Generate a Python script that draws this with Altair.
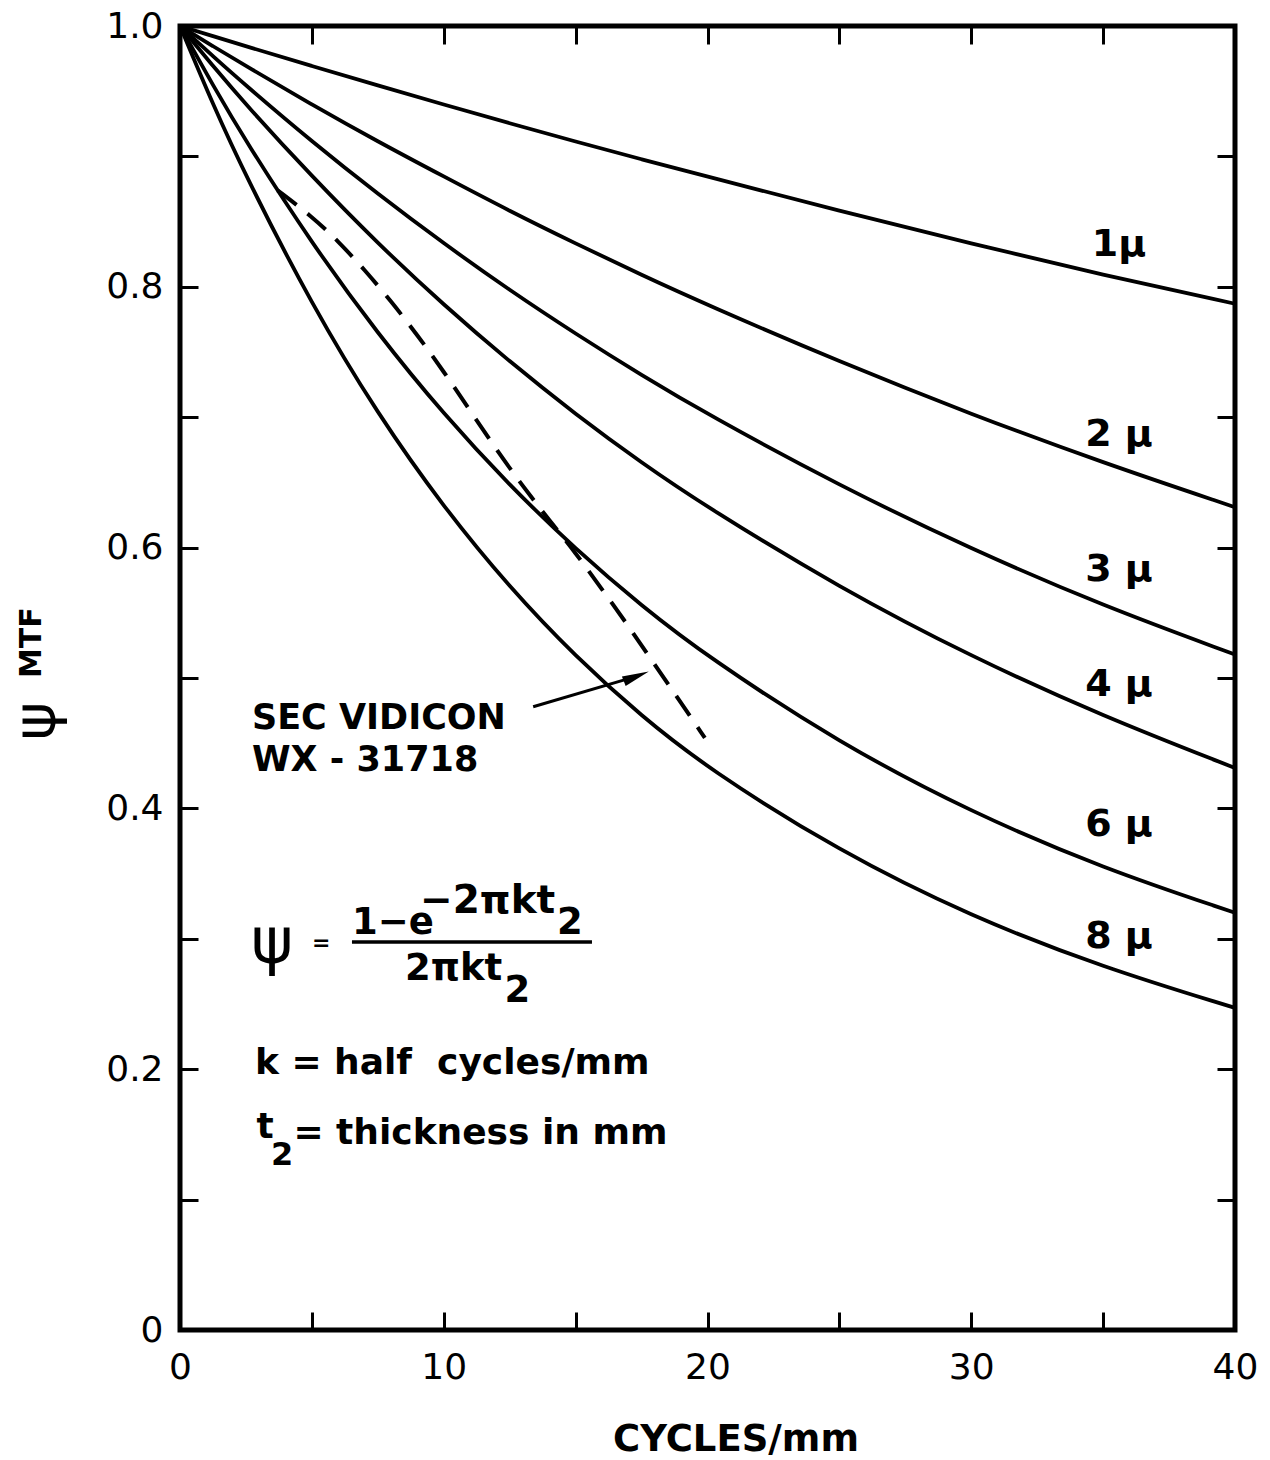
import altair as alt
import pandas as pd

FONT = "DejaVu Sans"

# ---- data ----
cycles = [0, 1.25, 2.5, 5, 7.5, 10, 12.5, 15, 17.5, 20, 25, 30, 35, 40]
psi_1u = [1.0, 0.9922, 0.9845, 0.9693, 0.9544, 0.9397, 0.9254, 0.9114, 0.8977, 0.8846, 0.8581, 0.8332, 0.8090, 0.7870]
psi_2u = [1.0, 0.9845, 0.9693, 0.9397, 0.9114, 0.8846, 0.8581, 0.8332, 0.8090, 0.7860, 0.7425, 0.7022, 0.6650, 0.6310]
psi_3u = [1.0, 0.9768, 0.9544, 0.9114, 0.8712, 0.8332, 0.7973, 0.7639, 0.7322, 0.7022, 0.6475, 0.5988, 0.5553, 0.5180]
psi_4u = [1.0, 0.9693, 0.9397, 0.8846, 0.8332, 0.7860, 0.7425, 0.7022, 0.6650, 0.6308, 0.5693, 0.5163, 0.4706, 0.4310]
psi_6u = [1.0, 0.9544, 0.9114, 0.8332, 0.7639, 0.7022, 0.6475, 0.5988, 0.5553, 0.5163, 0.4500, 0.3970, 0.3540, 0.3200]
psi_8u = [1.0, 0.9397, 0.8846, 0.7860, 0.7022, 0.6308, 0.5693, 0.5163, 0.4706, 0.4308, 0.3670, 0.3170, 0.2780, 0.2470]

thickness_labels = ["1μ", "2 μ", "3 μ", "4 μ", "6 μ", "8 μ"]
series = [psi_1u, psi_2u, psi_3u, psi_4u, psi_6u, psi_8u]

# measured SEC vidicon (dashed)
vidicon_cycles = [3.7, 5, 6, 7, 8, 9, 10, 11, 12, 13, 14, 15, 16, 17, 18, 19, 19.9]
vidicon_psi = [0.874, 0.854, 0.835, 0.813, 0.789, 0.763, 0.735, 0.705, 0.675, 0.647,
               0.621, 0.596, 0.568, 0.540, 0.510, 0.481, 0.454]

x_ticks = [0, 5, 10, 15, 20, 25, 30, 35, 40]
y_ticks = [0.0, 0.1, 0.2, 0.3, 0.4, 0.5, 0.6, 0.7, 0.8, 0.9, 1.0]

# ---- tables ----
rows = []
for lab, vals in zip(thickness_labels, series):
    for c, p in zip(cycles, vals):
        rows.append({"cycles": c, "psi": p, "thickness": lab})
curves = pd.DataFrame(rows)
vidicon = pd.DataFrame({"cycles": vidicon_cycles, "psi": vidicon_psi})

xs = alt.Scale(domain=[0, 40], nice=False, zero=False)
ys = alt.Scale(domain=[0, 1], nice=False, zero=False)

tick_axis = dict(tickSize=18, offset=-18, domain=False, grid=False, title=None,
                 tickColor="black", tickWidth=3)
label_axis = dict(labelColor="black", labelFont=FONT, labelFontSize=36,
                  labelFlush=False, labelOverlap=False, labelBound=False)

lines = alt.Chart(curves).mark_line(color="black", strokeWidth=3.8, interpolate="basis",
                                    strokeCap="round").encode(
    x=alt.X("cycles:Q", scale=xs, axis=alt.Axis(
        orient="bottom", values=x_ticks, labelPadding=20,
        labelExpr="datum.value % 10 == 0 ? datum.label : ''", **tick_axis, **label_axis)),
    y=alt.Y("psi:Q", scale=ys, axis=alt.Axis(
        orient="left", values=y_ticks, labelPadding=17,
        labelExpr="datum.value == 0 ? '0' : (round(datum.value*10) % 2 == 0 ? format(datum.value, '.1f') : '')",
        **tick_axis, **label_axis)),
    detail="thickness:N",
)

frame_axes = alt.Chart(curves).mark_line(strokeOpacity=0).encode(
    x=alt.X("cycles:Q", scale=xs, axis=alt.Axis(orient="top", values=x_ticks, labels=False, **tick_axis)),
    y=alt.Y("psi:Q", scale=ys, axis=alt.Axis(orient="right", values=y_ticks, labels=False, **tick_axis)),
    detail="thickness:N",
)

dashed = alt.Chart(vidicon).mark_line(color="black", strokeWidth=4, strokeDash=[24, 14],
                                      interpolate="basis").encode(
    x=alt.X("cycles:Q", scale=xs, axis=None),
    y=alt.Y("psi:Q", scale=ys, axis=None),
)


def texts(df, **kw):
    return alt.Chart(pd.DataFrame(df)).mark_text(font=FONT, color="black", **kw).encode(
        x=alt.X("x:Q", scale=xs, axis=None),
        y=alt.Y("y:Q", scale=ys, axis=None),
        text="t:N",
        size=alt.Size("s:Q", scale=None),
    )


NB = "\u00a0"

# curve labels
curve_lab = texts({
    "x": [35.6] * 6,
    "y": [0.832, 0.686, 0.583, 0.495, 0.387, 0.301],
    "t": thickness_labels,
    "s": [38] * 6,
}, align="center", baseline="middle", fontWeight="bold")

# left-aligned annotations
notes = texts({
    "x": [2.73, 2.73, 2.84, 2.9, 3.45, 4.3, 5.0, 6.52, 9.1, 14.29, 8.53, 12.3],
    "y": [0.469, 0.437, 0.2048, 0.156, 0.134, 0.151, 0.297, 0.312, 0.329, 0.312, 0.277, 0.260],
    "t": ["SEC VIDICON", "WX - 31718", f"k = half{NB}{NB}cycles/mm", "t", "2",
          "= thickness in mm",
          "=", "1−e", "−2πkt", "2", "2πkt", "2"],
    "s": [35, 35, 36, 36, 32, 36, 22, 37, 39, 37, 37, 37],
}, align="left", baseline="middle", fontWeight="bold")

psi_sym = texts({"x": [3.49], "y": [0.296], "t": ["ψ"], "s": [64]},
                align="center", baseline="middle")

# fraction bar
bar = alt.Chart(pd.DataFrame({"x": [6.52], "x2": [15.62], "y": [0.2975]})).mark_rule(
    color="black", strokeWidth=3.5).encode(
    x=alt.X("x:Q", scale=xs, axis=None), x2="x2:Q", y=alt.Y("y:Q", scale=ys, axis=None))

# arrow
arrow = alt.Chart(pd.DataFrame({"x": [13.39], "x2": [17.3], "y": [0.478], "y2": [0.5012]})).mark_rule(
    color="black", strokeWidth=3).encode(
    x=alt.X("x:Q", scale=xs, axis=None), x2="x2:Q",
    y=alt.Y("y:Q", scale=ys, axis=None), y2="y2:Q")
head = alt.Chart(pd.DataFrame({"x": [17.3], "y": [0.5012]})).mark_point(
    shape="M0,-1L0.38,1L-0.38,1Z", filled=True, size=720, angle=68.6, color="black",
    opacity=1).encode(
    x=alt.X("x:Q", scale=xs, axis=None), y=alt.Y("y:Q", scale=ys, axis=None))

# axis titles
ytitle_psi = texts({"x": [-5.4], "y": [0.467], "t": ["ψ"], "s": [58]},
                   align="center", baseline="middle", angle=270)
ytitle_mtf = texts({"x": [-5.6], "y": [0.5], "t": ["MTF"], "s": [30]},
                   align="left", baseline="middle", angle=270, fontWeight="bold")
xtitle = texts({"x": [21.08], "y": [-0.0844], "t": ["CYCLES/mm"], "s": [37]},
               align="center", baseline="middle", fontWeight="bold")

chart = alt.layer(
    lines, frame_axes, dashed, curve_lab, notes, psi_sym, bar, arrow, head,
    ytitle_psi, ytitle_mtf, xtitle
).resolve_axis(x="independent", y="independent").properties(
    width=1055, height=1304,
    autosize=alt.AutoSizeParams(type="none"),
    padding={"left": 180, "top": 26, "right": 35, "bottom": 130},
    background="white",
).configure_view(stroke="black", strokeWidth=5)

chart.save("out.html", embed_options={"renderer": "svg", "actions": False})
